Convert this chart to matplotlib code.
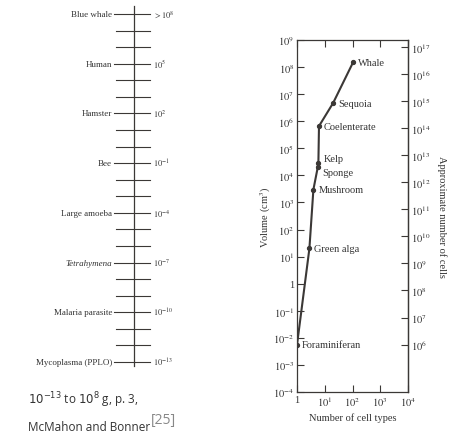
import matplotlib
matplotlib.use("Agg")
import matplotlib.pyplot as plt
import numpy as np
from matplotlib.ticker import FixedLocator, FuncFormatter, NullLocator

plt.rcParams['font.family'] = ['Liberation Serif', 'DejaVu Serif']
plt.rcParams['mathtext.fontset'] = 'stix'

# ---- data: left scale (log10 of mass in g) ----
scale_labels = ['Blue whale', 'Human', 'Hamster', 'Bee', 'Large amoeba',
                'Tetrahymena', 'Malaria parasite', 'Mycoplasma (PPLO)']
scale_exps = [8, 5, 2, -1, -4, -7, -10, -13]
scale_value_texts = [r'$>10^{8}$', r'$10^{5}$', r'$10^{2}$', r'$10^{-1}$',
                     r'$10^{-4}$', r'$10^{-7}$', r'$10^{-10}$', r'$10^{-13}$']
scale_all_exps = list(range(-13, 9))

# ---- data: right chart ----
organisms = ['Foraminiferan', 'Green alga', 'Mushroom', 'Sponge', 'Kelp',
             'Coelenterate', 'Sequoia', 'Whale']
cell_types = [1.0, 2.8, 3.9, 5.6, 5.9, 6.2, 20, 105]
volumes = [5.5e-3, 20, 3.0e3, 2.0e4, 2.9e4, 6.6e5, 4.7e6, 1.5e8]
x_ticks = [1, 10, 100, 1000, 10000]
y_ticks = [10.0 ** e for e in range(-4, 10)]
cell_ticks = [10.0 ** e for e in range(6, 18)]

W, H = 455, 435
fig = plt.figure(figsize=(W / 100, H / 100), dpi=100)
ink = '#3b3836'
txt = '#333333'

# ---- left scale diagram ----
ax_s = fig.add_axes([0, 0, 230 / W, 1])
ax_s.set_xlim(0, 230)
ax_s.set_ylim(-17.345, 8.905)
ax_s.axis('off')
ax_s.plot([134, 134], [-13.25, 8.5], color=ink, lw=0.9)
for e in scale_all_exps:
    if e in scale_exps:
        ax_s.plot([114, 150], [e, e], color=ink, lw=0.8)
    else:
        ax_s.plot([116, 150], [e, e], color=ink, lw=0.8)
for lab, e, vt in zip(scale_labels, scale_exps, scale_value_texts):
    style = 'italic' if lab == 'Tetrahymena' else 'normal'
    ax_s.text(112, e, lab, ha='right', va='center', fontsize=6.5,
              color=txt, style=style)
    ax_s.text(153, e, vt, ha='left', va='center', fontsize=6, color=txt)

# caption
cap_font = ['Open Sans', 'DejaVu Sans']
fig.text(28 / W, 1 - 400 / H, r'$10^{-13}$ to $10^{8}$ g, p. 3,', family=cap_font,
         math_fontfamily='dejavusans', fontsize=8.5, color=txt, va='center')
fig.text(28 / W, 1 - 428 / H, 'McMahon and Bonner', family=cap_font,
         fontsize=8.5, color=txt, va='center')
fig.text(151 / W, 1 - 421 / H, '[25]', family=cap_font, fontsize=10,
         color='#888888', va='center')

# ---- right chart ----
ax = fig.add_axes([297 / W, 42 / H, 111 / W, 352 / H])
ax.set_xscale('log')
ax.set_yscale('log')
ax.set_xlim(1, 1e4)
ax.set_ylim(1e-4, 1e9)
ax.plot(cell_types, volumes, color=ink, lw=1.5, marker='o', ms=2.8,
        mfc=ink, mec=ink)
offsets = {'Kelp': (3.5, 3), 'Sponge': (3.5, -3.5)}
for name, cx, v in zip(organisms, cell_types, volumes):
    off = offsets.get(name, (3.5, 0))
    ax.annotate(name, (cx, v), xytext=off, textcoords='offset points',
                ha='left', va='center', fontsize=7.5, color=txt)

def sci_fmt(v, pos):
    e = int(round(np.log10(v)))
    return '1' if e == 0 else r'$10^{%d}$' % e

ax.xaxis.set_major_locator(FixedLocator(x_ticks))
ax.xaxis.set_minor_locator(NullLocator())
ax.yaxis.set_major_locator(FixedLocator(y_ticks))
ax.yaxis.set_minor_locator(NullLocator())
ax.xaxis.set_major_formatter(FuncFormatter(sci_fmt))
ax.yaxis.set_major_formatter(FuncFormatter(sci_fmt))
ax.tick_params(axis='both', which='major', direction='in', length=5,
               width=0.8, color=ink, labelsize=7.5, labelcolor=txt, pad=2)
ax.tick_params(axis='x', top=True)
ax.tick_params(axis='y', right=False)
for sp in ax.spines.values():
    sp.set_color(ink)
    sp.set_linewidth(0.9)

offset = 10 ** 8.25
sec = ax.secondary_yaxis('right', functions=(lambda v: v * offset,
                                             lambda c: c / offset))
sec.yaxis.set_major_locator(FixedLocator(cell_ticks))
sec.yaxis.set_minor_locator(NullLocator())
sec.yaxis.set_major_formatter(FuncFormatter(sci_fmt))
sec.tick_params(direction='in', length=5, width=0.8, color=ink,
                labelsize=7.5, labelcolor=txt, pad=2)
sec.spines['right'].set_color(ink)
sec.spines['right'].set_linewidth(0.9)

ax.set_xlabel('Number of cell types', fontsize=7.5, color=txt, labelpad=3)
ax.set_ylabel(r'Volume (cm$^3$)', fontsize=7.5, color=txt, labelpad=0)
sec.set_ylabel('Approximate number of cells', fontsize=7.5, color=txt,
               rotation=270, labelpad=12)

fig.savefig('out.png', dpi=100, facecolor='white')
